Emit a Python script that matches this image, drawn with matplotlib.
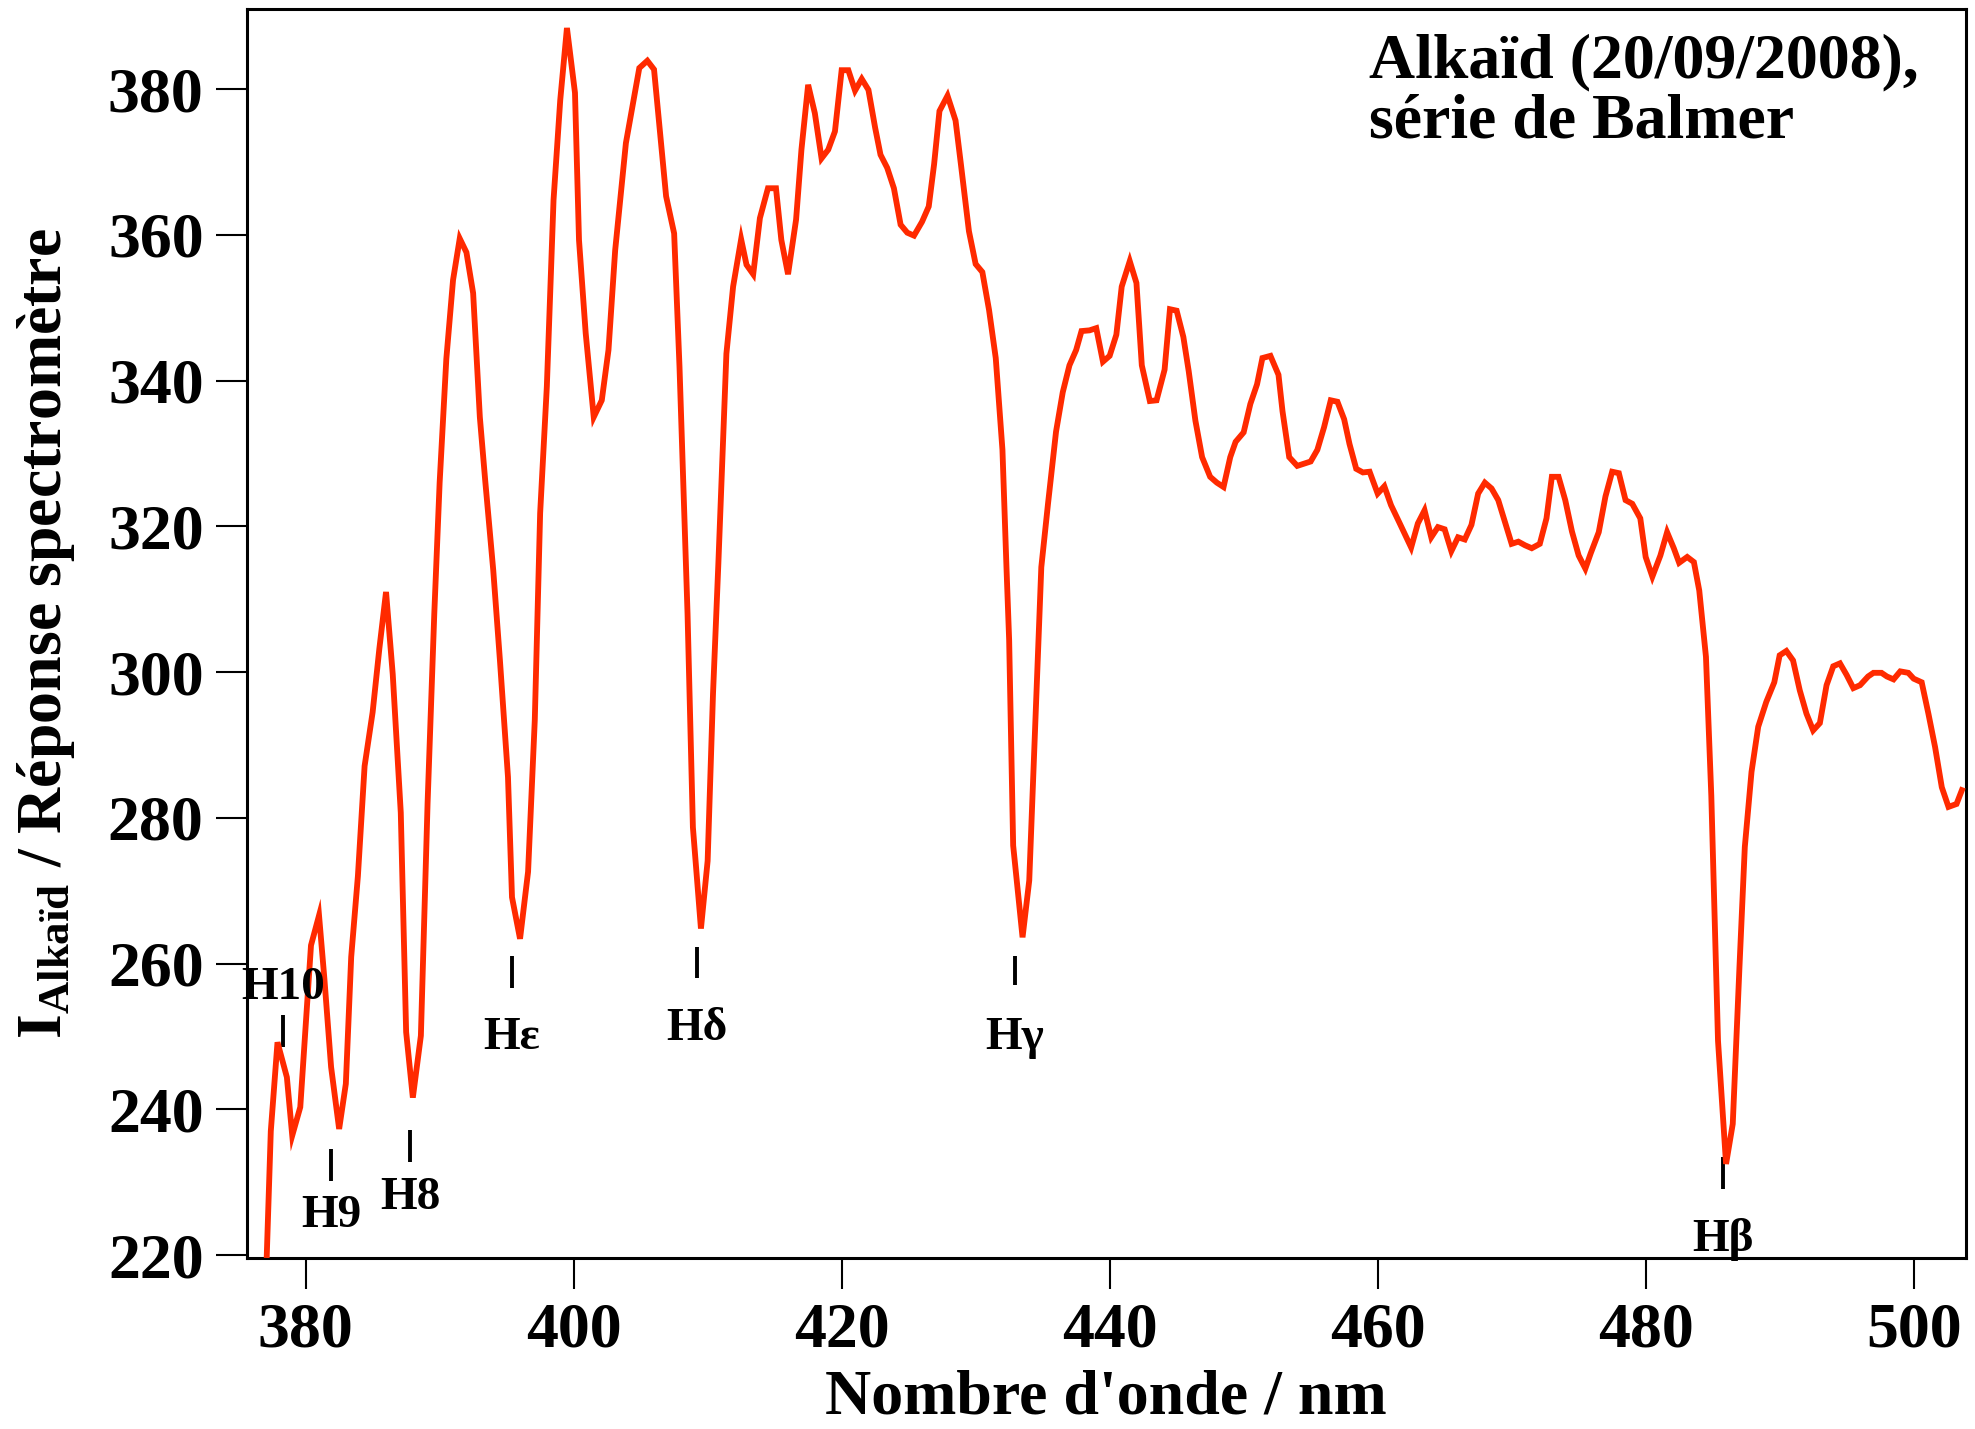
import matplotlib
matplotlib.use("Agg")
import matplotlib.pyplot as plt

plt.rcParams['font.family'] = ['Liberation Serif', 'DejaVu Serif']
plt.rcParams['font.weight'] = 'bold'
plt.rcParams['mathtext.fontset'] = 'custom'
plt.rcParams['mathtext.rm'] = 'Liberation Serif:bold'
plt.rcParams['mathtext.bf'] = 'Liberation Serif:bold'
plt.rcParams['mathtext.it'] = 'Liberation Serif:bold'

# Alkaid spectrum divided by the spectrometer response
wavelength = [
    377.1, 377.4, 377.9, 378.6, 379.0, 379.6, 380.4, 381.0, 381.4, 381.9,
    382.5, 383.0, 383.4, 383.9, 384.4, 385.0, 385.5, 386.0, 386.5, 387.1,
    387.5, 388.0, 388.6, 389.1, 389.6, 390.0, 390.5, 391.0, 391.5, 392.0,
    392.5, 393.0, 393.4, 394.0, 394.5, 395.1, 395.4, 396.0, 396.6, 397.1,
    397.5, 398.0, 398.5, 399.0, 399.5, 400.1, 400.4, 400.9, 401.5, 402.1,
    402.6, 403.1, 403.9, 404.9, 405.5, 406.0, 406.9, 407.5, 407.9, 408.5,
    408.9, 409.5, 410.0, 410.4, 410.8, 411.4, 411.9, 412.5, 412.9, 413.4,
    413.9, 414.5, 415.1, 415.5, 416.0, 416.6, 417.0, 417.5, 418.0, 418.5,
    419.0, 419.5, 420.0, 420.5, 421.0, 421.5, 422.0, 422.5, 422.9, 423.4,
    423.9, 424.4, 424.9, 425.4, 426.0, 426.5, 426.9, 427.3, 427.9, 428.5,
    428.9, 429.5, 430.0, 430.5, 431.0, 431.5, 432.0, 432.3, 432.5, 432.8,
    433.5, 434.0, 434.9, 435.4, 436.0, 436.5, 437.0, 437.5, 437.9, 438.5,
    439.0, 439.5, 440.0, 440.5, 440.9, 441.5, 442.0, 442.4, 443.0, 443.5,
    444.1, 444.5, 445.0, 445.5, 445.9, 446.4, 446.9, 447.5, 448.0, 448.5,
    449.0, 449.4, 450.0, 450.5, 451.0, 451.4, 452.0, 452.6, 452.9, 453.4,
    454.0, 454.5, 455.0, 455.5, 456.0, 456.5, 457.0, 457.5, 457.9, 458.4,
    458.9, 459.4, 460.0, 460.5, 461.0, 461.6, 462.5, 463.0, 463.5, 464.0,
    464.5, 465.0, 465.5, 466.0, 466.5, 467.0, 467.5, 468.0, 468.5, 469.0,
    469.5, 470.0, 470.5, 471.0, 471.5, 472.1, 472.6, 473.0, 473.5, 474.0,
    474.5, 475.0, 475.5, 475.9, 476.5, 477.0, 477.5, 478.0, 478.5, 479.0,
    479.6, 480.0, 480.5, 481.1, 481.6, 482.1, 482.5, 483.1, 483.6, 484.0,
    484.5, 484.9, 485.4, 486.0, 486.5, 487.0, 487.4, 487.9, 488.4, 489.0,
    489.6, 490.0, 490.5, 491.0, 491.5, 492.0, 492.5, 493.0, 493.5, 494.0,
    494.5, 495.0, 495.5, 496.0, 496.6, 497.0, 497.6, 498.0, 498.5, 499.0,
    499.6, 500.0, 500.6, 501.1, 501.6, 502.1, 502.6, 503.2, 503.6,
]
intensity = [
    220.0, 237.0, 249.2, 244.4, 236.4, 240.3, 262.5, 266.6, 257.9, 245.8,
    237.3, 243.5, 260.9, 272.0, 287.1, 294.5, 303.2, 311.0, 299.7, 280.7,
    250.6, 241.6, 250.1, 282.0, 308.0, 326.0, 343.0, 353.8, 359.5, 357.6,
    352.0, 335.0, 326.3, 314.0, 301.6, 285.6, 269.1, 263.4, 272.6, 293.4,
    321.8, 339.2, 364.8, 378.5, 388.4, 379.5, 359.3, 346.5, 335.0, 337.3,
    344.2, 357.9, 372.6, 382.9, 383.9, 382.7, 365.3, 360.2, 341.9, 308.0,
    278.7, 264.8, 274.1, 297.0, 314.9, 343.7, 352.9, 359.4, 355.9, 354.6,
    362.3, 366.4, 366.4, 359.3, 354.6, 362.1, 371.7, 380.6, 376.7, 370.5,
    371.7, 374.2, 382.6, 382.6, 379.8, 381.4, 379.9, 374.7, 371.0, 369.2,
    366.4, 361.4, 360.3, 359.9, 361.8, 363.9, 369.7, 377.0, 379.1, 375.7,
    369.7, 360.5, 356.0, 354.9, 349.7, 343.1, 330.5, 314.4, 304.4, 276.2,
    263.6, 271.4, 314.4, 323.1, 333.0, 338.4, 342.1, 344.2, 346.8, 346.9,
    347.2, 342.6, 343.4, 346.3, 352.9, 356.4, 353.4, 342.1, 337.2, 337.3,
    341.5, 349.8, 349.6, 346.0, 341.3, 334.5, 329.5, 326.8, 326.0, 325.4,
    329.5, 331.6, 332.9, 336.8, 339.5, 343.1, 343.4, 340.8, 335.8, 329.5,
    328.3, 328.6, 328.9, 330.5, 333.6, 337.3, 337.1, 334.7, 331.3, 327.9,
    327.4, 327.5, 324.5, 325.5, 322.9, 320.6, 317.1, 320.4, 322.2, 318.5,
    319.9, 319.6, 316.6, 318.5, 318.2, 320.2, 324.5, 326.0, 325.2, 323.6,
    320.6, 317.6, 317.9, 317.4, 317.0, 317.6, 321.1, 326.8, 326.8, 323.6,
    319.3, 316.0, 314.2, 316.3, 319.2, 324.1, 327.5, 327.3, 323.6, 323.1,
    321.1, 315.8, 313.1, 316.0, 319.2, 317.0, 315.0, 315.8, 315.1, 311.2,
    302.1, 283.0, 249.4, 232.5, 238.0, 259.5, 276.0, 286.3, 292.5, 295.9,
    298.6, 302.3, 302.9, 301.6, 297.5, 294.3, 292.0, 293.0, 298.2, 300.8,
    301.2, 299.6, 297.8, 298.2, 299.4, 299.9, 299.9, 299.4, 299.0, 300.1,
    299.9, 299.1, 298.6, 294.3, 289.7, 284.2, 281.5, 281.9, 283.8,
]

# Balmer lines: marker position, marker extent and label baseline
line_names = ['H10', 'H9', 'H8', 'Hε', 'Hδ', 'Hγ', 'Hβ']
line_pos = [378.3, 381.9, 387.8, 395.4, 409.2, 432.9, 485.8]
mark_top = [252.9, 234.5, 237.1, 261.1, 262.3, 261.1, 233.4]
mark_bottom = [248.5, 230.2, 232.7, 256.7, 258.0, 257.0, 229.0]
label_base = [255.2, 223.8, 226.3, 248.3, 249.5, 248.3, 220.5]

x_ticks = [380, 400, 420, 440, 460, 480, 500]
y_ticks = [220, 240, 260, 280, 300, 320, 340, 360, 380]

fig = plt.figure(figsize=(19.75, 14.29), dpi=100)
ax = fig.add_axes([0.1249, 0.1197, 0.8705, 0.874])

ax.plot(wavelength, intensity, color='#ff2a00', lw=4.2,
        solid_joinstyle='miter', zorder=3)

ax.vlines(line_pos, mark_bottom, mark_top, color='black', lw=2.8)
for name, x, y in zip(line_names, line_pos, label_base):
    ax.text(x, y, name, ha='center', va='baseline',
            fontsize=34, fontweight='bold')

ax.set_xlim(375.6, 503.9)
ax.set_ylim(219.6, 391.0)
ax.set_xticks(x_ticks)
ax.set_yticks(y_ticks)

for side in ['left', 'right', 'top', 'bottom']:
    ax.spines[side].set_linewidth(2.2)
ax.tick_params(direction='out', length=22, width=1.5, labelsize=46)
ax.tick_params(axis='x', pad=10)
ax.tick_params(axis='y', pad=9)
for lab in ax.get_xticklabels() + ax.get_yticklabels():
    lab.set_fontweight('bold')

ax.set_xlabel("Nombre d'onde / nm", fontsize=46, fontweight='bold')
ax.xaxis.set_label_coords(0.5, -0.089)
ax.text(-0.117, 0.5, r'I$_{\mathrm{Alkaïd}}$ / Réponse spectromètre',
        transform=ax.transAxes, rotation=90, ha='center', va='center',
        fontsize=46, fontweight='bold')

ax.text(0.653, 0.9448, 'Alkaïd (20/09/2008),', transform=ax.transAxes,
        ha='left', va='baseline', fontsize=46, fontweight='bold')
ax.text(0.653, 0.8975, 'série de Balmer', transform=ax.transAxes,
        ha='left', va='baseline', fontsize=46, fontweight='bold')

fig.savefig('out.png', dpi=100)
